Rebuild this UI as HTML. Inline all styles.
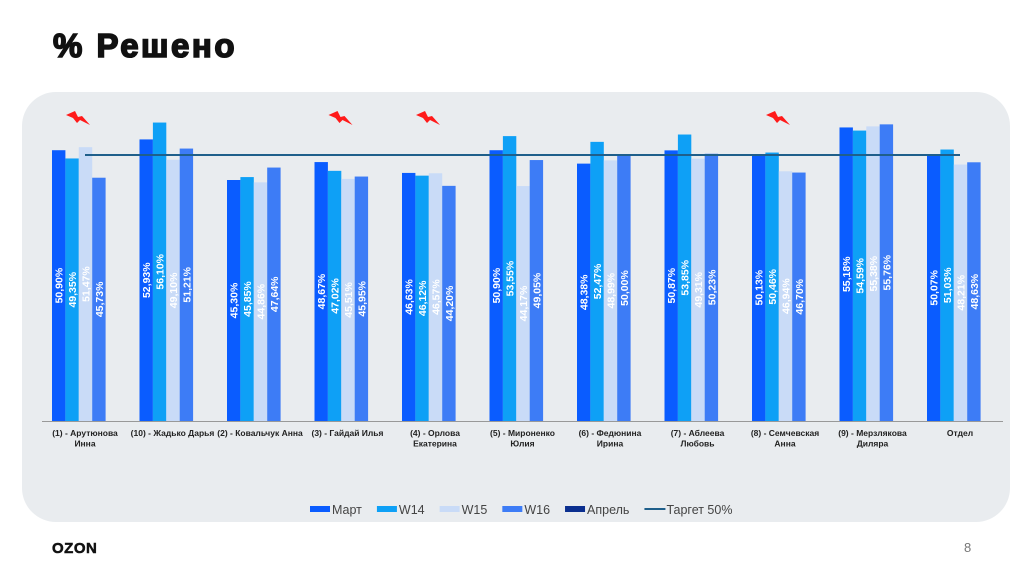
<!DOCTYPE html>
<html><head><meta charset="utf-8"><style>
html,body{margin:0;padding:0;background:#fff;width:1024px;height:574px;overflow:hidden;font-family:"Liberation Sans",sans-serif}
#title{position:absolute;left:53px;top:27px;font-size:33px;font-weight:900;letter-spacing:2.5px;color:#111;-webkit-text-stroke:1.6px #111}
#panel{position:absolute;left:22px;top:92px;width:988px;height:430px;background:#e9ecef;border-radius:34px}
#logo{position:absolute;left:52px;top:540px;font-size:15px;font-weight:900;color:#111;letter-spacing:0.5px;-webkit-text-stroke:0.5px #111}
#pnum{position:absolute;left:964px;top:540px;font-size:13px;color:#777}
svg{position:absolute;left:0;top:0}
</style></head><body>
<div id="title">% Решено</div>
<div id="panel"></div>
<div id="logo">OZON</div>
<div id="pnum">8</div>
<svg id="chart" width="1024" height="574"></svg>
<script>
const categories=[["(1) - Арутюнова","Инна"],["(10) - Жадько Дарья"],["(2) - Ковальчук Анна"],["(3) - Гайдай Илья"],["(4) - Орлова","Екатерина"],["(5) - Мироненко","Юлия"],["(6) - Федюнина","Ирина"],["(7) - Аблеева","Любовь"],["(8) - Семчевская","Анна"],["(9) - Мерзлякова","Диляра"],["Отдел"]];
const mart=[50.90,52.93,45.30,48.67,46.63,50.90,48.38,50.87,50.13,55.18,50.07];
const w14=[49.35,56.10,45.85,47.02,46.12,53.55,52.47,53.85,50.46,54.59,51.03];
const w15=[51.47,49.10,44.86,45.51,46.57,44.17,48.99,49.31,46.94,55.38,48.21];
const w16=[45.73,51.21,47.64,45.95,44.20,49.05,50.00,50.23,46.70,55.76,48.63];
const flagged=[0,3,4,8];
const target=50;
const seriesNames=["Март","W14","W15","W16","Апрель"];
const colors=["#0a5cff","#0ea0f6","#c9dbf7","#3d7cf6","#0b2f8f"];
const NS="http://www.w3.org/2000/svg";
const svg=document.getElementById('chart');
const base=421, k=5.32, c0=85, step=87.5, bw=13.4;
const y=v=>base-v*k;
const xc=i=>c0+i*step;
function mk(t,a){const e=document.createElementNS(NS,t);for(const n in a)e.setAttribute(n,a[n]);svg.appendChild(e);return e;}
const series=[mart,w14,w15,w16];
series.forEach((s,si)=>{
  s.forEach((v,i)=>{
    const x=xc(i)-33+si*bw;
    const r=mk('rect',{x:x,y:y(v),width:bw,height:base-y(v),fill:colors[si]});
    
    
    const cx=x+bw/2+4, cy=(y(v)+base)/2;
    const t=mk('text',{x:cx,y:cy,transform:`rotate(-90 ${cx} ${cy})`,'text-anchor':'middle','font-size':'10.5','font-weight':'bold',fill:'#fff'});
    t.textContent=v.toFixed(2).replace('.',',')+'%';
    
    
  });
});
const ax=mk('line',{x1:42,x2:1003,y1:base+0.5,y2:base+0.5,stroke:'#999','stroke-width':1});


const tl=mk('line',{x1:xc(0),x2:xc(categories.length-1),y1:y(target),y2:y(target),stroke:'#1f5f8b','stroke-width':2});


categories.forEach((c,i)=>{
  c.forEach((ln,j)=>{
    const t=mk('text',{x:xc(i),y:436+j*10.5,'text-anchor':'middle','font-size':'8.5','font-weight':'bold',fill:'#222'});
    t.textContent=ln;
    
    
  });
});
flagged.forEach(i=>{
  const x=xc(i)-19,yy=115;
  const p=mk('polygon',{points:`${x},${yy} ${x+9},${yy-4} ${x+12},${yy+2} ${x+16},${yy+1} ${x+24},${yy+10} ${x+14},${yy+5} ${x+11},${yy+8} ${x+7},${yy+3}`,fill:'#ff1a1a'});
  
  
});
let lx=310; const ly=510;
const legItems=seriesNames.concat(["Таргет 50%"]);
legItems.forEach((n,i)=>{
  if(i<5){const r=mk('rect',{x:lx,y:ly-4,width:20,height:6,fill:colors[i]});
    
    }
  else{const l=mk('line',{x1:lx,x2:lx+21,y1:ly-1,y2:ly-1,stroke:'#1f5f8b','stroke-width':2});
    
    }
  const t=mk('text',{x:lx+22,y:ly+4,'font-size':'12.5',fill:'#444'});
  t.textContent=n;
  
  
  lx+=22+t.getComputedTextLength()+15;
});
</script>
</body></html>
